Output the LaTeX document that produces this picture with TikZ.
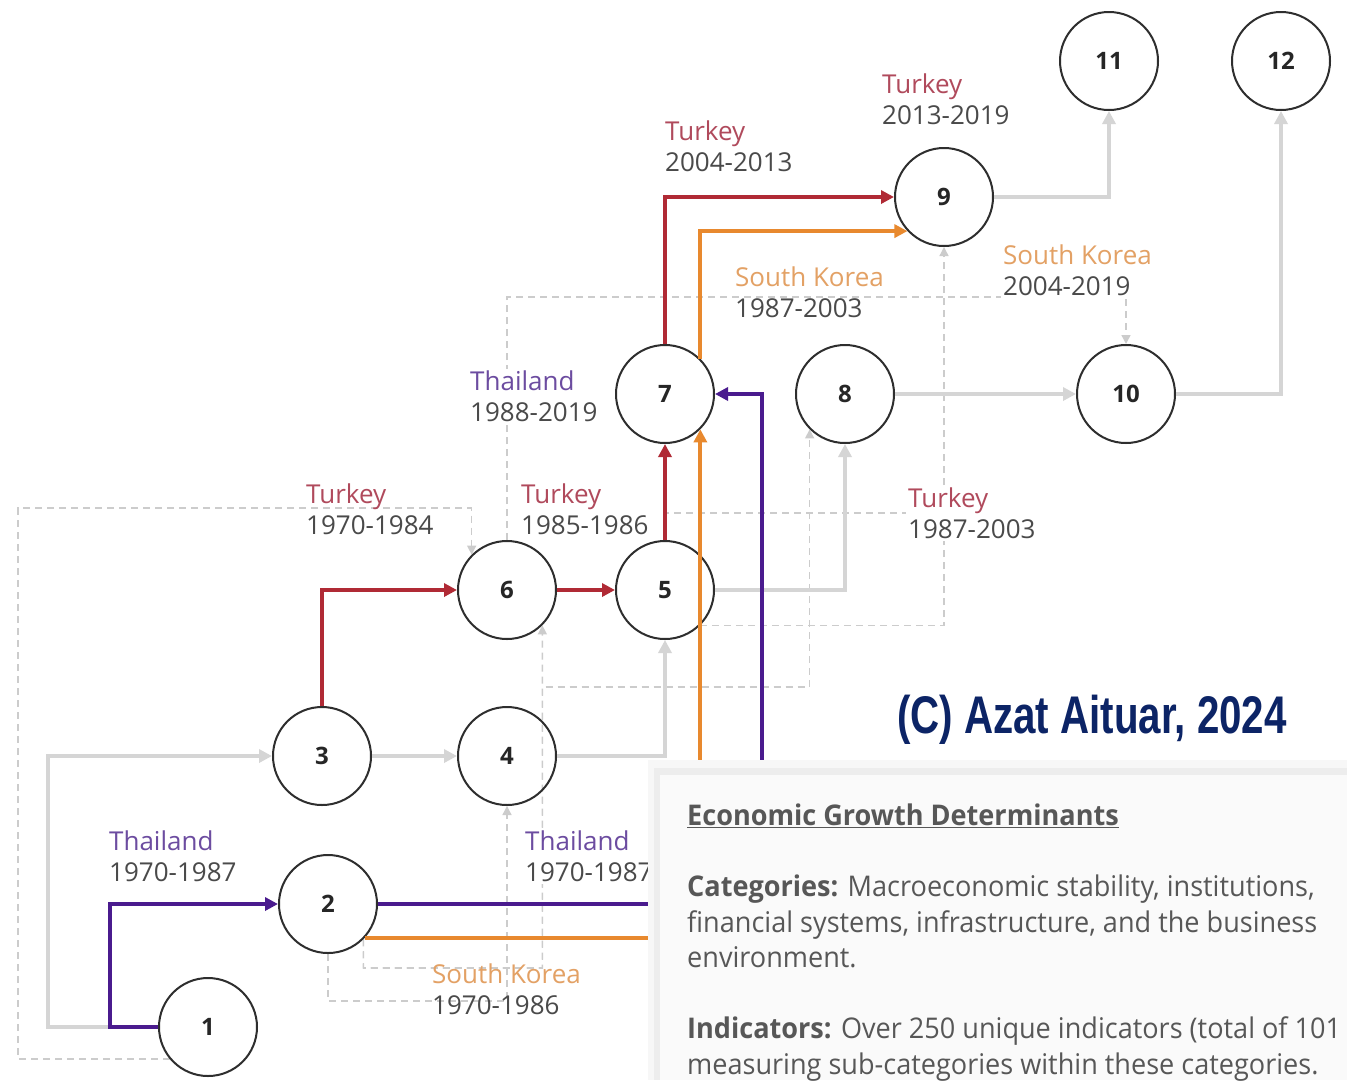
\documentclass[tikz,border=0pt]{standalone}
\usepackage{fontspec}
\setmainfont{Open Sans}
\newfontfamily\notefont[FakeStretch=0.95]{Open Sans}
\newfontfamily\markfont[FakeStretch=0.76]{Liberation Sans}
\usetikzlibrary{arrows.meta, backgrounds}

\definecolor{tkred}{HTML}{B02A35}
\definecolor{tklbl}{HTML}{B04A5C}
\definecolor{skorange}{HTML}{E8892E}
\definecolor{sklbl}{HTML}{E3A165}
\definecolor{thpurple}{HTML}{4A1B8E}
\definecolor{thlbl}{HTML}{6C4CA0}
\definecolor{yeargray}{HTML}{4A4A4A}
\definecolor{linegray}{HTML}{D5D5D5}
\definecolor{dashgray}{HTML}{CCCCCC}
\definecolor{ringgray}{HTML}{2E2E2E}
\definecolor{marknavy}{HTML}{0C2466}
\definecolor{notetext}{HTML}{575757}
\definecolor{panelbg}{HTML}{FAFAFA}

\begin{document}
\begin{tikzpicture}[
    x=1pt, y=-1pt,
    stage/.style={draw=ringgray, circle, line width=2pt, minimum size=98pt, inner sep=0pt, font=\fontsize{24}{24}\selectfont\bfseries, text=black!85},
    lbl/.style={anchor=west, align=left, inner sep=2pt, fill=white, text=yeargray, font=\fontsize{26}{31}\selectfont},
    flow/.style={line width=4pt, -{Triangle[length=13pt,width=13pt]}},
    link/.style={flow, draw=linegray},
    hint/.style={draw=dashgray, line width=1.4pt, dash pattern=on 7pt off 5pt, -{Triangle[length=9pt,width=9pt]}},
]
\useasboundingbox (0,0) rectangle (1347,1080);

% Stages
\node[stage] (n1) at (208,1027) {1};
\node[stage] (n2) at (328,904) {2};
\node[stage] (n3) at (322,756) {3};
\node[stage] (n4) at (507,756) {4};
\node[stage] (n5) at (665,590) {5};
\node[stage] (n6) at (507,590) {6};
\node[stage] (n7) at (665,394) {7};
\node[stage] (n8) at (845,394) {8};
\node[stage] (n9) at (944,197) {9};
\node[stage] (n10) at (1126,394) {10};
\node[stage] (n11) at (1109,61) {11};
\node[stage] (n12) at (1281,61) {12};

% Country labels
\node[lbl, fill=none] (lbTk1) at (304,509) {\textcolor{tklbl}{Turkey}\\1970-1984};
\node[lbl] (lbTk2) at (519,509) {\textcolor{tklbl}{Turkey}\\1985-1986};
\node[lbl] (lbTk3) at (906,513) {\textcolor{tklbl}{Turkey}\\1987-2003};
\node[lbl] (lbTk4) at (663,146) {\textcolor{tklbl}{Turkey}\\2004-2013};
\node[lbl] (lbTk5) at (880,99) {\textcolor{tklbl}{Turkey}\\2013-2019};
\node[lbl, fill=none] (lbSk1) at (430,989) {\textcolor{sklbl}{South Korea}\\1970-1986};
\node[lbl, fill=none] (lbSk2) at (733,292) {\textcolor{sklbl}{South Korea}\\1987-2003};
\node[lbl] (lbSk3) at (1001,270) {\textcolor{sklbl}{South Korea}\\2004-2019};
\node[lbl] (lbTh1) at (107,856) {\textcolor{thlbl}{Thailand}\\1970-1987};
\node[lbl] (lbTh2) at (523,856) {\textcolor{thlbl}{Thailand}\\1970-1987};
\node[lbl] (lbTh3) at (468,396) {\textcolor{thlbl}{Thailand}\\1988-2019};

% Bends
\coordinate (skA) at (542.4,968);
\coordinate (skB) at (542.4,687);
\coordinate (skC) at (507,1001);
\coordinate (skD) at (507,297);
\coordinate (tkA) at (18,508);
\coordinate (thbend) at (762,904);

% Dashed hints
\begin{scope}[on background layer]
\fill[white] (0,0) rectangle (1347,1080);
\draw[hint] (n1.-140) -| (tkA) -| (n6.135);
\draw[hint] (n2.-45) |- (skA) -- (n6.-45);
\draw[hint] (n2.-45) |- (skA) -- (skB) -| (n8.-135);
\draw[hint] (n2.south) |- (skC) -- (n4.south);
\draw[hint] (n5.-45) -| (n9.south);
\draw[hint] (n6.north) -- (skD) -| (n10.north);
\draw[hint, -] (n5.north) |- (lbTk3.west);
\end{scope}

% Gray links
\draw[link] (n1.west) -- ++(-110,0) |- (n3.west);
\draw[link] (n3) -- (n4);
\draw[link] (n4.east) -| (n5.south);
\draw[link] (n5.east) -| (n8.south);
\draw[link] (n8) -- (n10);
\draw[link] (n9.east) -| (n11.south);
\draw[link] (n10.east) -| (n12.south);

% Turkey
\draw[flow, draw=tkred] (n3.north) |- (n6.west);
\draw[flow, draw=tkred] (n6) -- (n5);
\draw[flow, draw=tkred] (n5) -- (n7);
\draw[flow, draw=tkred] (n7.north) |- (n9.west);

% South Korea
\draw[flow, draw=skorange] (n2.-43) -| (n7.-45);
\draw[flow, draw=skorange] (n7.45) |- (n9.223);

% Thailand
\draw[flow, draw=thpurple] (n1.west) -- ++(-48,0) |- (n2.west);
\draw[flow, draw=thpurple] (n2.east) -- (thbend) |- (n7.east);

% Watermark
\node[text=marknavy, font=\markfont\bfseries\fontsize{53}{53}\selectfont] (mark) at (1092,720) {(C) Azat Aituar, 2024};

% Note panel
\fill[black!3] (648,760) rectangle (1347,1080);
\fill[black!7] (654,768) rectangle (1347,1080);
\fill[panelbg] (660,775) rectangle (1347,1080);
\begin{scope}
\clip (660,775) rectangle (1347,1080);
\node[anchor=north west, align=left, inner sep=0pt, text=notetext, font=\notefont\fontsize{28.5}{35.5}\selectfont] (note) at (687,804) {%
{\bfseries\underline{Economic Growth Determinants}}\\[35.5pt]
{\bfseries Categories:} Macroeconomic stability, institutions,\\
financial systems, infrastructure, and the business\\
environment.\\[35.5pt]
{\bfseries Indicators:} Over 250 unique indicators (total of 101\\
measuring sub-categories within these categories.};
\end{scope}

\end{tikzpicture}
\end{document}
